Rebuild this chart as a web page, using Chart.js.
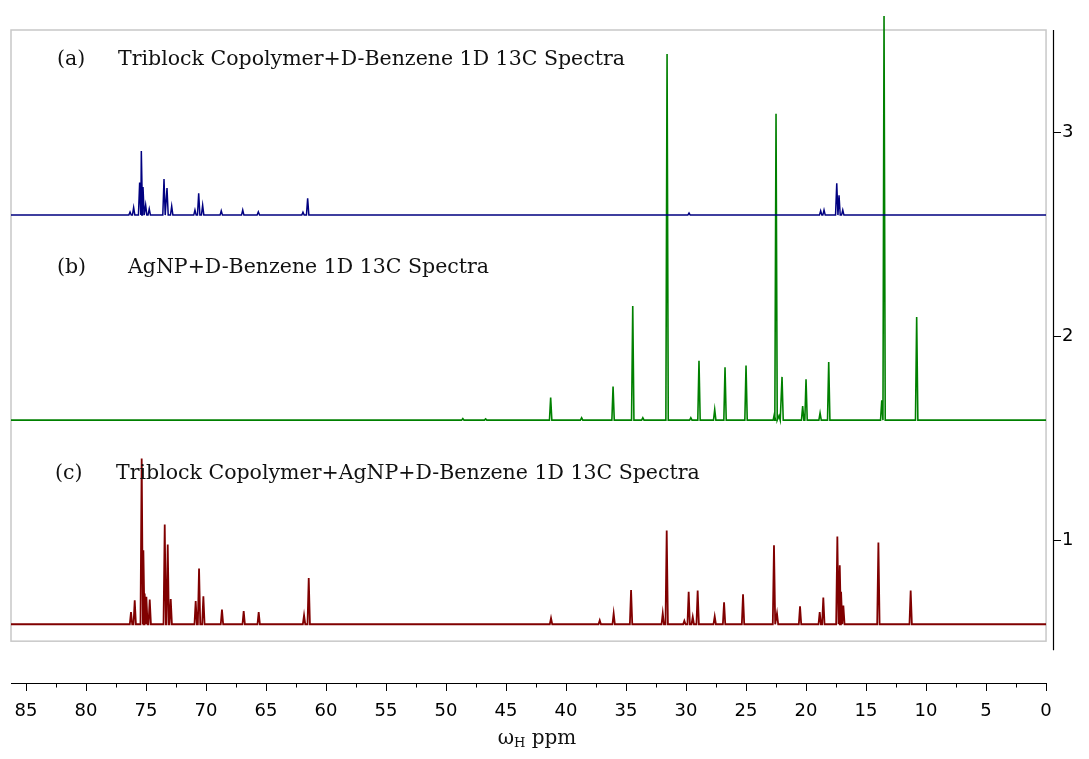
<!DOCTYPE html>
<html>
<head>
<meta charset="utf-8">
<script src="https://cdn.jsdelivr.net/npm/chart.js@4.4.1/dist/chart.umd.min.js"></script>
<style>
  html, body { margin: 0; padding: 0; background: #fff; }
  #wrap { width: 1089px; height: 759px; }
</style>
</head>
<body>
<div id="wrap"><canvas id="nmr" width="1089" height="759"></canvas></div>
<script>
// =====================
// DATA
// =====================
const PPM_MAX = 86.25;
const PPM_MIN = 0;

const xTicks = [85, 80, 75, 70, 65, 60, 55, 50, 45, 40, 35, 30, 25, 20, 15, 10, 5, 0];
const xMinorTicks = [82.5, 77.5, 72.5, 67.5, 62.5, 57.5, 52.5, 47.5, 42.5, 37.5, 32.5, 27.5, 22.5, 17.5, 12.5, 7.5, 2.5];
const yTicks = [1, 2, 3];

// baselines of the stacked spectra (right axis units)
const baseA = 2.593;
const baseB = 1.588;
const baseC = 0.588;

// peaks: [ppm, top value]
const peaksA = [
  [76.33, 2.608], [76.03, 2.630], [75.53, 2.753], [75.39, 2.907], [75.25, 2.730],
  [75.03, 2.642], [74.73, 2.623], [73.50, 2.770], [73.25, 2.726], [72.86, 2.637],
  [70.92, 2.618], [70.61, 2.700], [70.28, 2.641], [68.73, 2.614], [66.94, 2.618],
  [65.64, 2.609], [61.92, 2.607], [61.53, 2.675], [29.75, 2.603], [18.78, 2.614],
  [18.50, 2.618], [17.44, 2.749], [17.25, 2.690], [16.94, 2.618]
];

const peaksB = [
  [48.60, 1.596], [46.70, 1.594], [41.28, 1.699], [38.70, 1.600], [36.08, 1.753],
  [34.44, 2.147], [33.60, 1.600], [31.58, 3.382], [29.60, 1.600], [28.92, 1.879],
  [27.61, 1.640], [26.75, 1.847], [25.00, 1.856], [22.64, 1.617], [22.50, 3.090],
  [22.25, 1.610], [22.00, 1.800], [20.28, 1.657], [20.00, 1.789], [18.83, 1.623],
  [18.11, 1.873], [13.69, 1.685], [13.50, 3.569], [10.78, 2.093]
];

const peaksC = [
  [76.25, 0.647], [75.94, 0.705], [75.36, 1.400], [75.22, 0.951], [75.11, 0.739],
  [74.97, 0.722], [74.69, 0.709], [73.44, 1.077], [73.19, 0.979], [72.94, 0.711],
  [70.86, 0.701], [70.58, 0.861], [70.22, 0.725], [68.67, 0.660], [66.86, 0.652],
  [65.61, 0.647], [61.83, 0.632], [61.44, 0.814], [41.25, 0.618], [37.19, 0.607],
  [36.03, 0.641], [34.58, 0.755], [31.94, 0.642], [31.61, 1.047], [30.14, 0.605],
  [29.78, 0.747], [29.44, 0.624], [29.03, 0.753], [27.61, 0.626], [26.83, 0.696],
  [25.25, 0.735], [22.67, 0.975], [22.42, 0.641], [20.50, 0.676], [18.86, 0.647],
  [18.56, 0.719], [17.39, 1.018], [17.19, 0.877], [17.08, 0.747], [16.89, 0.680],
  [13.97, 0.989], [11.28, 0.753]
];

const labels = [
  { tag: "(a)", text: "Triblock Copolymer+D-Benzene 1D 13C Spectra", tagPpm: 82.42, textPpm: 77.33, y: 3.353 },
  { tag: "(b)", text: "AgNP+D-Benzene 1D 13C Spectra", tagPpm: 82.42, textPpm: 76.50, y: 2.333 },
  { tag: "(c)", text: "Triblock Copolymer+AgNP+D-Benzene 1D 13C Spectra", tagPpm: 82.58, textPpm: 77.50, y: 1.328 }
];

// =====================
// BUILD LINES
// =====================
const HW = 0.1; // half width of a peak foot, ppm

function buildSpectrum(base, peaks) {
  const pts = [{ x: PPM_MAX, y: base }];
  peaks.slice().sort((a, b) => b[0] - a[0]).forEach(([p, top]) => {
    pts.push({ x: p + HW, y: base }, { x: p, y: top }, { x: p - HW, y: base });
  });
  pts.push({ x: PPM_MIN, y: base });
  return pts;
}

// =====================
// DECORATION PLUGIN
// =====================
const SERIF = "'DejaVu Serif', serif";

const decor = {
  id: "decor",
  beforeDatasetsDraw(chart) {
    const { ctx, scales: { x, y } } = chart;
    const l = x.getPixelForValue(PPM_MAX), r = x.getPixelForValue(PPM_MIN);
    const t = y.getPixelForValue(3.5), b = y.getPixelForValue(0.505);
    ctx.save();
    ctx.strokeStyle = "#c8c8c8";
    ctx.lineWidth = 1.5;
    ctx.strokeRect(l, t, r - l, b - t);
    ctx.restore();
  },
  afterDraw(chart) {
    const { ctx, chartArea, scales: { x, y } } = chart;
    ctx.save();
    ctx.strokeStyle = "#000";
    ctx.lineWidth = 1.2;

    // bottom axis line
    const ax = chartArea.bottom + 0.5;
    ctx.beginPath();
    ctx.moveTo(x.getPixelForValue(PPM_MAX), ax);
    ctx.lineTo(x.getPixelForValue(PPM_MIN), ax);
    ctx.stroke();

    // minor ticks
    ctx.lineWidth = 1;
    xMinorTicks.forEach(v => {
      const px = Math.round(x.getPixelForValue(v)) + 0.5;
      ctx.beginPath();
      ctx.moveTo(px, ax);
      ctx.lineTo(px, ax + 4);
      ctx.stroke();
    });

    // right axis line
    const rx = chartArea.right + 0.5;
    ctx.lineWidth = 1.2;
    ctx.beginPath();
    ctx.moveTo(rx, y.getPixelForValue(3.5));
    ctx.lineTo(rx, y.getPixelForValue(0.46));
    ctx.stroke();

    // spectrum labels
    ctx.fillStyle = "#111";
    ctx.font = "20.5px " + SERIF;
    ctx.textBaseline = "middle";
    ctx.textAlign = "left";
    labels.forEach(lb => {
      const py = y.getPixelForValue(lb.y);
      ctx.fillText(lb.tag, x.getPixelForValue(lb.tagPpm), py);
      ctx.fillText(lb.text, x.getPixelForValue(lb.textPpm), py);
    });

    // axis title: omega_H ppm
    ctx.textBaseline = "alphabetic";
    const big = "20px " + SERIF, small = "13px " + SERIF;
    ctx.font = big;
    const w1 = ctx.measureText("\u03c9").width;
    const w3 = ctx.measureText(" ppm").width;
    ctx.font = small;
    const w2 = ctx.measureText("H").width;
    const cx = 537, by = 744;
    let sx = cx - (w1 + w2 + w3) / 2;
    ctx.font = big;
    ctx.fillText("\u03c9", sx, by);
    ctx.font = small;
    ctx.fillText("H", sx + w1, by + 3);
    ctx.font = big;
    ctx.fillText(" ppm", sx + w1 + w2, by);
    ctx.restore();
  }
};

// =====================
// CHART
// =====================
const tickFont = { family: "'DejaVu Sans', sans-serif", size: 18 };

new Chart(document.getElementById("nmr"), {
  type: "line",
  data: {
    datasets: [
      { data: buildSpectrum(baseA, peaksA), borderColor: "#000080", borderWidth: 1.5 },
      { data: buildSpectrum(baseB, peaksB), borderColor: "#008000", borderWidth: 1.6 },
      { data: buildSpectrum(baseC, peaksC), borderColor: "#800000", borderWidth: 1.8 }
    ]
  },
  options: {
    responsive: false,
    animation: false,
    elements: { point: { radius: 0 }, line: { tension: 0 } },
    datasets: { line: { clip: false } },
    layout: { padding: { left: 11, top: 30, right: 0, bottom: 0 } },
    plugins: { legend: { display: false }, tooltip: { enabled: false } },
    scales: {
      x: {
        type: "linear",
        reverse: true,
        min: -0.58,
        max: PPM_MAX,
        afterBuildTicks: s => { s.ticks = xTicks.map(v => ({ value: v })); },
        afterFit: s => { s.height = 76; },
        border: { display: false },
        grid: { drawOnChartArea: false, drawTicks: true, tickLength: 8, tickColor: "#000", tickWidth: 1 },
        ticks: { font: tickFont, color: "#000", padding: 10, maxRotation: 0, autoSkip: false, callback: v => v }
      },
      y: {
        position: "right",
        min: 0.3,
        max: 3.5,
        afterBuildTicks: s => { s.ticks = yTicks.map(v => ({ value: v })); },
        afterFit: s => { s.width = 36; },
        border: { display: false },
        grid: { drawOnChartArea: false, drawTicks: true, tickLength: 8, tickColor: "#000", tickWidth: 1 },
        ticks: { font: tickFont, color: "#000", padding: 1, callback: v => v }
      }
    }
  },
  plugins: [decor]
});
</script>
</body>
</html>
